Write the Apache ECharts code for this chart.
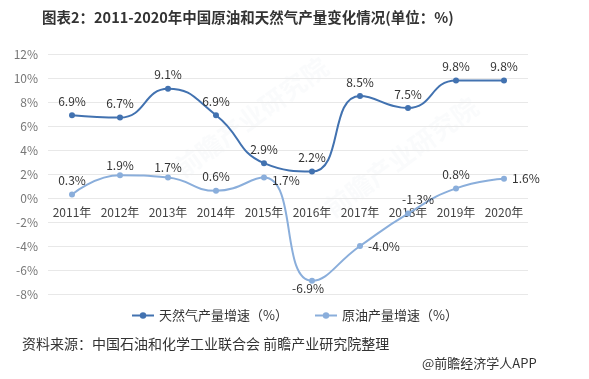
<!DOCTYPE html>
<html>
<head>
<meta charset="utf-8">
<script src="https://cdn.jsdelivr.net/npm/echarts@6/dist/echarts.min.js"></script>
<style>
html,body{margin:0;padding:0;background:#fff;}
#c{width:589px;height:379px;}
</style>
</head>
<body>
<div id="c"></div>
<script>
const years = ['2011年','2012年','2013年','2014年','2015年','2016年','2017年','2018年','2019年','2020年'];
const gasGrowth = [6.9, 6.7, 9.1, 6.9, 2.9, 2.2, 8.5, 7.5, 9.8, 9.8];
const oilGrowth = [0.3, 1.9, 1.7, 0.6, 1.7, -6.9, -4.0, -1.3, 0.8, 1.6];
const gasName = '天然气产量增速（%）';
const oilName = '原油产量增速（%）';
const titleText = '图表2：2011-2020年中国原油和天然气产量变化情况(单位：%)';
const sourceText = '资料来源：中国石油和化学工业联合会 前瞻产业研究院整理';
const creditText = '@前瞻经济学人APP';

const FONT = '"Noto Sans CJK SC", "Noto Sans", sans-serif';
const gasColor = '#4272b0';
const oilColor = '#8aaedb';

const oilLabelPos = ['top','top','top','top','right','bottom','right','top','top','right'];
const oilLabelOffset = [[0,0],[0,4],[0,4],[0,0],[0,3],[-4,-6],[0,0],[10,0],[0,0],[0,0]];

const chart = echarts.init(document.getElementById('c'));
chart.setOption({
  backgroundColor: '#fff',
  animation: false,
  textStyle: { fontFamily: FONT },
  grid: { left: 48, right: 61, top: 54, bottom: 85 },
  legend: {
    top: 304, left: 'center', itemGap: 26, itemWidth: 22, itemHeight: 8,
    textStyle: { fontSize: 13, color: '#333', fontFamily: FONT },
    data: [gasName, oilName]
  },
  xAxis: {
    type: 'category', data: years, boundaryGap: true,
    offset: -96,
    axisLine: { show: false, onZero: false },
    axisTick: { show: false },
    axisLabel: { color: '#444', fontSize: 12, margin: 8, fontFamily: FONT, interval: 0 }
  },
  yAxis: {
    type: 'value', min: -8, max: 12, interval: 2,
    axisLine: { show: false }, axisTick: { show: false },
    axisLabel: { formatter: '{value}%', color: '#777', fontSize: 12, margin: 10, fontFamily: FONT },
    splitLine: { lineStyle: { color: '#e8e8e8' } }
  },
  graphic: [
    { type: 'text', left: 42, top: 10, style: { text: titleText, font: 'bold 14.5px ' + FONT, fill: '#333' } },
    { type: 'text', left: 22, top: 337, style: { text: sourceText, font: '14px ' + FONT, fill: '#333' } },
    { type: 'text', left: 422, top: 357, style: { text: creditText, font: '13px ' + FONT, fill: '#333' } },
    { type: 'text', x: 170, y: 160, rotation: Math.PI/5, style: { text: '前瞻产业研究院', font: 'bold 26px ' + FONT, fill: 'rgba(190,200,215,0.08)' } },
    { type: 'text', x: 320, y: 200, rotation: Math.PI/5, style: { text: '前瞻产业研究院', font: 'bold 26px ' + FONT, fill: 'rgba(190,200,215,0.08)' } }
  ],
  series: [
    {
      name: gasName, type: 'line', smooth: true, data: gasGrowth,
      symbol: 'circle', symbolSize: 6,
      lineStyle: { color: gasColor, width: 2 },
      itemStyle: { color: gasColor },
      label: { show: true, position: 'top', distance: 5, formatter: p => p.value.toFixed(1) + '%', color: '#333', fontSize: 12, fontFamily: FONT },
      z: 3
    },
    {
      name: oilName, type: 'line', smooth: true,
      data: oilGrowth.map((v, i) => ({
        value: v,
        label: { position: oilLabelPos[i], offset: oilLabelOffset[i] }
      })),
      symbol: 'circle', symbolSize: 6,
      lineStyle: { color: oilColor, width: 2 },
      itemStyle: { color: oilColor },
      label: { show: true, distance: 5, formatter: p => p.value.toFixed(1) + '%', color: '#333', fontSize: 12, fontFamily: FONT },
      z: 2
    }
  ]
});
</script>
</body>
</html>
